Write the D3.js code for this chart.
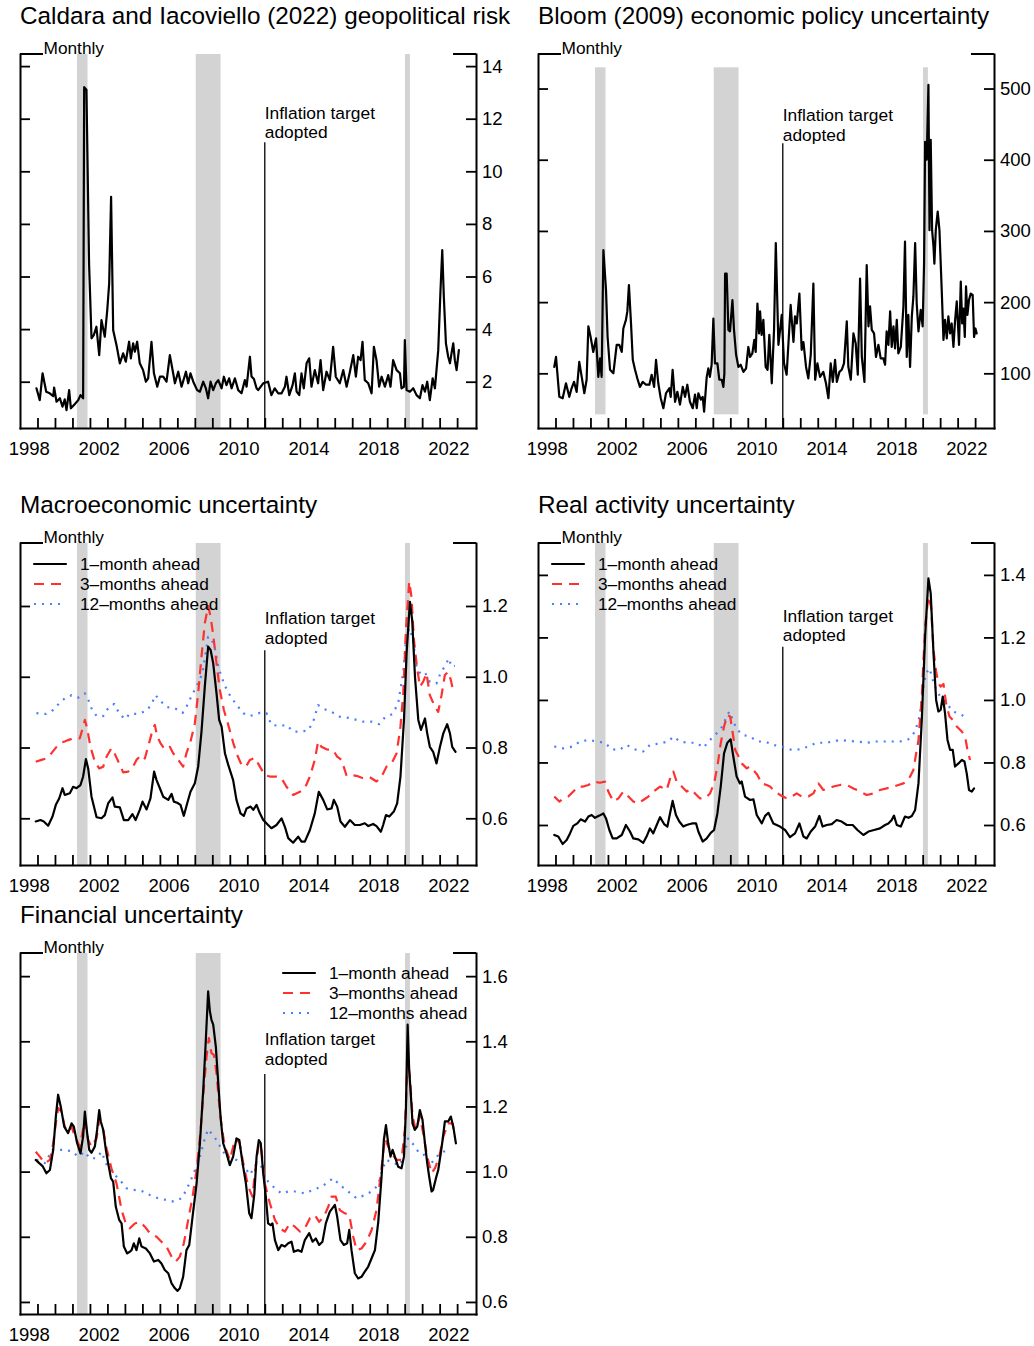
<!DOCTYPE html>
<html>
<head>
<meta charset="utf-8">
<script src="https://cdn.jsdelivr.net/npm/d3@7"></script>
<style>
  body { margin: 0; background: #fff; }
  svg text { font-family: "Liberation Sans", Arial, Helvetica, sans-serif; fill: #000; }
</style>
</head>
<body>
<svg id="chart" width="1034" height="1346"></svg>
<script>
// ---- Data: [decimal year, value] ----
const gprRisk = [[1998.94,1.75],[1999.13,1.30],[1999.29,2.32],[1999.5,1.62],[1999.7,1.56],[1999.9,1.45],[1999.95,1.78],[2000.09,1.24],[2000.28,1.37],[2000.43,1.05],[2000.56,1.33],[2000.66,0.92],[2000.81,1.68],[2000.91,0.99],[2001.14,1.15],[2001.33,1.30],[2001.46,1.49],[2001.61,1.37],[2001.67,13.2],[2001.8,13.1],[2001.95,6.5],[2002.09,3.65],[2002.22,3.77],[2002.37,4.09],[2002.53,3.01],[2002.66,4.34],[2002.85,3.71],[2002.99,4.72],[2003.1,5.74],[2003.21,9.03],[2003.33,3.96],[2003.52,3.39],[2003.71,2.70],[2003.9,3.08],[2004.05,2.76],[2004.24,3.52],[2004.34,2.89],[2004.47,3.46],[2004.57,3.14],[2004.7,3.52],[2004.85,2.70],[2005.04,2.44],[2005.2,2.0],[2005.33,2.13],[2005.52,3.52],[2005.66,2.32],[2005.85,1.81],[2006.0,2.19],[2006.19,2.19],[2006.38,2.0],[2006.57,3.01],[2006.76,2.32],[2006.86,1.94],[2007.05,2.38],[2007.24,1.81],[2007.49,2.38],[2007.62,1.94],[2007.75,2.32],[2007.91,2.0],[2008.13,1.68],[2008.29,1.62],[2008.48,2.0],[2008.63,1.75],[2008.76,1.37],[2008.9,2.0],[2009.05,1.68],[2009.2,1.94],[2009.34,2.06],[2009.53,1.75],[2009.66,2.19],[2009.81,1.87],[2009.96,2.13],[2010.1,1.75],[2010.29,2.13],[2010.48,1.68],[2010.67,1.56],[2010.86,2.06],[2010.96,1.81],[2011.15,2.95],[2011.24,2.2],[2011.38,2.1],[2011.53,1.75],[2011.62,1.68],[2011.91,1.94],[2012.19,2.0],[2012.38,1.49],[2012.57,1.75],[2012.77,1.56],[2012.96,1.56],[2013.15,1.81],[2013.24,2.19],[2013.4,1.49],[2013.59,1.87],[2013.72,2.32],[2013.82,1.62],[2013.97,1.49],[2014.1,2.32],[2014.23,1.75],[2014.39,2.70],[2014.54,2.89],[2014.67,1.81],[2014.86,2.44],[2015.05,1.94],[2015.19,2.82],[2015.34,1.68],[2015.53,2.38],[2015.72,2.06],[2015.91,3.33],[2016.06,2.19],[2016.29,1.94],[2016.49,2.44],[2016.68,1.81],[2016.87,2.38],[2017.06,3.01],[2017.21,2.19],[2017.34,2.95],[2017.48,2.82],[2017.59,3.52],[2017.72,2.06],[2017.92,1.94],[2018.11,1.56],[2018.24,3.33],[2018.39,2.82],[2018.54,1.81],[2018.68,2.19],[2018.87,1.81],[2019.06,2.25],[2019.19,1.81],[2019.34,2.82],[2019.54,2.44],[2019.73,2.32],[2019.82,1.75],[2019.96,1.81],[2020.01,3.58],[2020.11,1.68],[2020.3,1.62],[2020.49,1.75],[2020.68,1.49],[2020.87,1.37],[2021.02,1.87],[2021.16,1.62],[2021.29,2.0],[2021.44,1.30],[2021.6,2.13],[2021.73,1.75],[2021.92,3.20],[2022.05,5.49],[2022.15,7.0],[2022.24,5.23],[2022.36,3.46],[2022.49,2.95],[2022.59,2.70],[2022.68,3.08],[2022.78,3.46],[2022.87,2.82],[2022.97,2.44],[2023.1,3.20]];

const epuIndex = [[1998.93,109],[1999.03,123],[1999.22,67],[1999.41,65],[1999.6,86],[1999.79,67],[1999.92,79],[2000.06,88],[2000.21,74],[2000.36,116],[2000.5,95],[2000.65,72],[2000.78,91],[2000.88,166],[2001.01,151],[2001.16,130],[2001.32,149],[2001.45,95],[2001.55,121],[2001.64,95],[2001.74,273],[2001.89,217],[2001.98,151],[2002.12,105],[2002.31,100],[2002.5,140],[2002.65,140],[2002.79,130],[2002.88,163],[2003.03,175],[2003.11,187],[2003.2,224],[2003.32,170],[2003.42,119],[2003.55,105],[2003.68,93],[2003.83,81],[2003.99,88],[2004.18,84],[2004.37,84],[2004.5,98],[2004.64,81],[2004.75,119],[2004.88,86],[2005.02,65],[2005.17,51],[2005.32,72],[2005.51,79],[2005.59,67],[2005.7,105],[2005.84,60],[2005.97,74],[2006.12,56],[2006.28,81],[2006.41,67],[2006.54,84],[2006.69,60],[2006.85,51],[2006.98,70],[2007.08,51],[2007.17,72],[2007.31,63],[2007.42,67],[2007.5,46],[2007.65,95],[2007.74,107],[2007.83,95],[2007.93,112],[2008.03,177],[2008.12,114],[2008.26,114],[2008.37,91],[2008.51,91],[2008.6,81],[2008.66,100],[2008.7,240],[2008.79,240],[2008.89,161],[2008.98,159],[2009.12,203],[2009.21,161],[2009.33,126],[2009.46,109],[2009.59,112],[2009.75,102],[2009.9,107],[2010.03,137],[2010.13,123],[2010.26,128],[2010.37,147],[2010.45,130],[2010.55,198],[2010.64,156],[2010.7,187],[2010.79,154],[2010.89,175],[2011.02,109],[2011.13,105],[2011.23,154],[2011.37,86],[2011.5,161],[2011.6,283],[2011.75,140],[2011.94,182],[2012.07,114],[2012.22,98],[2012.45,196],[2012.61,144],[2012.7,180],[2012.8,170],[2012.95,212],[2013.08,133],[2013.18,144],[2013.33,109],[2013.46,93],[2013.6,126],[2013.75,226],[2013.85,91],[2013.98,114],[2014.13,95],[2014.32,102],[2014.47,86],[2014.61,65],[2014.74,114],[2014.86,88],[2014.99,119],[2015.09,88],[2015.24,102],[2015.37,105],[2015.5,114],[2015.66,173],[2015.75,109],[2015.89,91],[2016.04,156],[2016.17,142],[2016.29,98],[2016.42,233],[2016.52,123],[2016.67,88],[2016.8,252],[2016.9,166],[2016.99,194],[2017.09,161],[2017.22,156],[2017.33,123],[2017.47,140],[2017.6,121],[2017.75,121],[2017.85,112],[2017.94,159],[2018.04,140],[2018.14,187],[2018.23,137],[2018.33,166],[2018.42,135],[2018.52,175],[2018.61,128],[2018.75,137],[2018.9,194],[2018.99,285],[2019.09,123],[2019.18,182],[2019.28,109],[2019.38,180],[2019.47,208],[2019.57,283],[2019.66,198],[2019.76,159],[2019.89,189],[2020.0,166],[2020.08,254],[2020.14,425],[2020.23,400],[2020.33,505],[2020.39,301],[2020.46,428],[2020.54,301],[2020.62,278],[2020.67,254],[2020.75,301],[2020.86,327],[2020.96,301],[2021.09,217],[2021.19,147],[2021.28,175],[2021.38,149],[2021.47,180],[2021.57,156],[2021.66,170],[2021.76,137],[2021.85,173],[2021.95,201],[2022.08,140],[2022.18,229],[2022.26,170],[2022.33,191],[2022.41,151],[2022.48,222],[2022.56,182],[2022.65,203],[2022.75,212],[2022.86,210],[2022.94,151],[2023.02,163],[2023.09,156]];

const macro1 = [[1998.9,0.591],[1999.17,0.595],[1999.36,0.591],[1999.61,0.579],[1999.86,0.605],[2000.05,0.638],[2000.24,0.656],[2000.43,0.685],[2000.56,0.666],[2000.85,0.671],[2001.04,0.689],[2001.23,0.685],[2001.46,0.694],[2001.61,0.718],[2001.77,0.767],[2001.9,0.741],[2002.09,0.661],[2002.38,0.603],[2002.66,0.6],[2002.85,0.609],[2003.04,0.642],[2003.29,0.659],[2003.42,0.633],[2003.71,0.631],[2003.94,0.595],[2004.19,0.595],[2004.43,0.612],[2004.61,0.595],[2004.85,0.624],[2005.01,0.647],[2005.24,0.625],[2005.46,0.656],[2005.67,0.732],[2005.81,0.708],[2006.0,0.685],[2006.19,0.661],[2006.48,0.652],[2006.67,0.669],[2006.8,0.647],[2006.99,0.644],[2007.18,0.638],[2007.37,0.607],[2007.56,0.642],[2007.75,0.675],[2008.0,0.699],[2008.19,0.746],[2008.38,0.845],[2008.57,0.972],[2008.76,1.085],[2008.9,1.076],[2009.05,1.038],[2009.24,0.953],[2009.39,0.878],[2009.53,0.859],[2009.72,0.784],[2009.91,0.751],[2010.19,0.708],[2010.38,0.652],[2010.61,0.614],[2010.8,0.607],[2010.96,0.628],[2011.19,0.633],[2011.34,0.624],[2011.53,0.638],[2011.72,0.614],[2011.91,0.595],[2012.19,0.581],[2012.38,0.572],[2012.67,0.581],[2012.96,0.6],[2013.15,0.576],[2013.34,0.544],[2013.62,0.531],[2013.91,0.548],[2014.1,0.534],[2014.29,0.534],[2014.58,0.567],[2014.86,0.614],[2015.09,0.675],[2015.34,0.652],[2015.57,0.625],[2015.82,0.628],[2015.95,0.652],[2016.14,0.633],[2016.33,0.591],[2016.58,0.576],[2016.87,0.595],[2017.15,0.581],[2017.44,0.581],[2017.72,0.586],[2017.92,0.578],[2018.2,0.584],[2018.39,0.578],[2018.64,0.562],[2018.77,0.581],[2018.93,0.609],[2019.12,0.605],[2019.38,0.619],[2019.57,0.642],[2019.76,0.718],[2019.96,0.878],[2020.11,1.066],[2020.3,1.212],[2020.43,1.16],[2020.59,1.0],[2020.78,0.878],[2020.93,0.85],[2021.16,0.882],[2021.29,0.84],[2021.44,0.802],[2021.63,0.788],[2021.82,0.755],[2022.02,0.802],[2022.21,0.84],[2022.43,0.866],[2022.59,0.84],[2022.72,0.802],[2022.91,0.788]];

const macro3 = [[1998.9,0.76],[1999.23,0.765],[1999.51,0.769],[1999.8,0.784],[2000.09,0.802],[2000.37,0.814],[2000.56,0.817],[2000.75,0.821],[2001.04,0.826],[2001.42,0.826],[2001.61,0.859],[2001.71,0.878],[2001.84,0.854],[2002.03,0.802],[2002.28,0.76],[2002.53,0.741],[2002.76,0.746],[2002.95,0.774],[2003.23,0.798],[2003.42,0.782],[2003.67,0.755],[2003.9,0.73],[2004.19,0.732],[2004.47,0.746],[2004.66,0.765],[2004.95,0.779],[2005.14,0.769],[2005.43,0.821],[2005.58,0.85],[2005.71,0.864],[2005.85,0.831],[2006.04,0.812],[2006.28,0.795],[2006.57,0.802],[2006.76,0.784],[2007.05,0.765],[2007.33,0.746],[2007.52,0.784],[2007.75,0.817],[2008.0,0.868],[2008.19,0.953],[2008.38,1.057],[2008.57,1.151],[2008.76,1.2],[2008.9,1.17],[2009.05,1.118],[2009.24,1.038],[2009.43,0.963],[2009.66,0.906],[2009.91,0.864],[2010.19,0.814],[2010.42,0.779],[2010.67,0.751],[2010.92,0.746],[2011.15,0.765],[2011.43,0.771],[2011.72,0.746],[2012.0,0.722],[2012.29,0.718],[2012.67,0.718],[2012.96,0.713],[2013.24,0.689],[2013.62,0.666],[2014.01,0.675],[2014.29,0.685],[2014.58,0.718],[2014.86,0.765],[2015.05,0.817],[2015.24,0.802],[2015.53,0.795],[2015.91,0.793],[2016.14,0.774],[2016.39,0.765],[2016.68,0.72],[2016.96,0.722],[2017.25,0.72],[2017.63,0.713],[2018.01,0.716],[2018.39,0.704],[2018.68,0.718],[2018.96,0.746],[2019.25,0.755],[2019.54,0.784],[2019.76,0.859],[2019.92,0.953],[2020.07,1.132],[2020.26,1.269],[2020.39,1.226],[2020.53,1.104],[2020.68,1.038],[2020.87,0.972],[2021.06,0.986],[2021.25,1.01],[2021.44,0.948],[2021.73,0.915],[2021.92,0.901],[2022.11,0.948],[2022.3,1.005],[2022.49,1.014],[2022.64,0.991],[2022.81,0.953]];

const macro12 = [[1998.94,0.897],[1999.48,0.895],[1999.9,0.906],[2000.24,0.925],[2000.56,0.939],[2000.95,0.948],[2001.33,0.941],[2001.71,0.953],[2001.9,0.936],[2002.09,0.911],[2002.38,0.889],[2002.76,0.889],[2003.04,0.911],[2003.39,0.923],[2003.67,0.897],[2004.0,0.88],[2004.28,0.895],[2004.76,0.895],[2005.24,0.904],[2005.52,0.922],[2005.75,0.948],[2006.04,0.931],[2006.42,0.914],[2006.86,0.911],[2007.3,0.898],[2007.52,0.915],[2007.77,0.941],[2008.0,0.964],[2008.23,0.986],[2008.44,1.011],[2008.61,1.066],[2008.76,1.113],[2008.95,1.108],[2009.14,1.08],[2009.34,1.028],[2009.66,0.981],[2009.91,0.955],[2010.19,0.934],[2010.48,0.915],[2010.77,0.897],[2011.15,0.889],[2011.72,0.898],[2012.1,0.897],[2012.38,0.864],[2012.86,0.861],[2013.24,0.864],[2013.62,0.845],[2014.01,0.845],[2014.48,0.848],[2014.77,0.873],[2015.05,0.92],[2015.44,0.908],[2015.91,0.898],[2016.29,0.887],[2016.77,0.884],[2017.25,0.878],[2017.63,0.873],[2018.11,0.873],[2018.54,0.866],[2018.87,0.885],[2019.31,0.895],[2019.63,0.925],[2019.92,1.014],[2020.11,1.123],[2020.3,1.137],[2020.49,1.099],[2020.68,1.028],[2020.91,1.008],[2021.16,1.012],[2021.44,0.986],[2021.82,0.981],[2022.05,1.01],[2022.3,1.03],[2022.53,1.052],[2022.68,1.028],[2022.87,1.031]];

const real1 = [[1998.93,0.568],[1999.16,0.563],[1999.41,0.539],[1999.64,0.552],[1999.83,0.573],[2000.02,0.597],[2000.25,0.605],[2000.44,0.618],[2000.69,0.611],[2000.88,0.627],[2001.07,0.632],[2001.26,0.623],[2001.51,0.63],[2001.74,0.637],[2001.89,0.621],[2002.08,0.584],[2002.27,0.557],[2002.5,0.557],[2002.79,0.568],[2003.03,0.6],[2003.26,0.579],[2003.45,0.557],[2003.74,0.554],[2004.02,0.543],[2004.21,0.563],[2004.4,0.589],[2004.59,0.573],[2004.79,0.6],[2004.98,0.625],[2005.21,0.603],[2005.4,0.595],[2005.55,0.637],[2005.7,0.677],[2005.89,0.632],[2006.08,0.611],[2006.31,0.595],[2006.5,0.6],[2006.69,0.603],[2006.85,0.605],[2007.04,0.605],[2007.17,0.579],[2007.42,0.547],[2007.65,0.557],[2007.88,0.575],[2008.07,0.584],[2008.26,0.637],[2008.45,0.723],[2008.64,0.829],[2008.83,0.863],[2009.02,0.874],[2009.17,0.819],[2009.36,0.755],[2009.55,0.733],[2009.65,0.739],[2009.84,0.691],[2010.13,0.68],[2010.32,0.682],[2010.51,0.632],[2010.8,0.605],[2010.99,0.629],[2011.18,0.639],[2011.46,0.605],[2011.84,0.595],[2012.13,0.584],[2012.41,0.561],[2012.7,0.573],[2012.95,0.605],[2013.18,0.563],[2013.37,0.557],[2013.6,0.579],[2013.85,0.595],[2014.09,0.629],[2014.28,0.595],[2014.51,0.6],[2014.8,0.603],[2015.08,0.616],[2015.37,0.611],[2015.66,0.6],[2016.0,0.6],[2016.27,0.584],[2016.61,0.568],[2016.9,0.579],[2017.22,0.584],[2017.56,0.589],[2017.85,0.6],[2018.04,0.605],[2018.23,0.616],[2018.36,0.63],[2018.52,0.6],[2018.75,0.595],[2018.99,0.627],[2019.19,0.623],[2019.38,0.629],[2019.57,0.648],[2019.76,0.733],[2019.95,0.936],[2020.14,1.203],[2020.33,1.389],[2020.46,1.341],[2020.62,1.149],[2020.77,1.0],[2020.9,0.963],[2021.03,0.968],[2021.15,1.011],[2021.28,0.957],[2021.42,0.872],[2021.57,0.84],[2021.72,0.84],[2021.85,0.787],[2022.05,0.797],[2022.24,0.808],[2022.39,0.803],[2022.52,0.765],[2022.65,0.712],[2022.81,0.707],[2022.94,0.717]];

const real3 = [[1998.93,0.691],[1999.22,0.675],[1999.45,0.685],[1999.73,0.691],[2000.02,0.707],[2000.31,0.723],[2000.59,0.723],[2000.88,0.728],[2001.17,0.739],[2001.55,0.735],[2001.83,0.739],[2002.02,0.707],[2002.31,0.675],[2002.6,0.685],[2002.88,0.707],[2003.17,0.691],[2003.45,0.675],[2003.74,0.669],[2004.02,0.68],[2004.31,0.691],[2004.6,0.707],[2004.98,0.723],[2005.36,0.712],[2005.59,0.755],[2005.74,0.771],[2005.93,0.739],[2006.22,0.723],[2006.5,0.707],[2006.73,0.714],[2006.98,0.701],[2007.27,0.685],[2007.55,0.685],[2007.84,0.701],[2008.07,0.733],[2008.26,0.787],[2008.45,0.861],[2008.64,0.915],[2008.83,0.952],[2008.99,0.947],[2009.14,0.893],[2009.28,0.84],[2009.47,0.819],[2009.65,0.797],[2009.94,0.781],[2010.13,0.787],[2010.32,0.776],[2010.55,0.76],[2010.8,0.733],[2011.08,0.728],[2011.27,0.723],[2011.56,0.707],[2011.84,0.696],[2012.22,0.685],[2012.51,0.691],[2012.8,0.701],[2013.08,0.691],[2013.46,0.691],[2013.75,0.701],[2014.04,0.733],[2014.32,0.712],[2014.61,0.717],[2014.89,0.723],[2015.28,0.728],[2015.66,0.728],[2016.04,0.717],[2016.42,0.707],[2016.8,0.696],[2017.18,0.701],[2017.56,0.712],[2017.94,0.717],[2018.33,0.723],[2018.61,0.728],[2018.9,0.733],[2019.18,0.744],[2019.47,0.776],[2019.76,0.872],[2019.95,1.011],[2020.14,1.235],[2020.33,1.331],[2020.48,1.299],[2020.62,1.16],[2020.77,1.091],[2020.9,1.053],[2021.03,1.043],[2021.19,1.051],[2021.34,0.989],[2021.53,0.947],[2021.72,0.936],[2021.95,0.915],[2022.24,0.899],[2022.43,0.883],[2022.56,0.84],[2022.71,0.808]];

const real12 = [[1998.93,0.851],[1999.45,0.845],[1999.98,0.851],[2000.4,0.867],[2000.88,0.872],[2001.36,0.867],[2001.83,0.863],[2002.21,0.842],[2002.65,0.84],[2003.07,0.856],[2003.55,0.842],[2004.02,0.835],[2004.4,0.856],[2004.98,0.861],[2005.45,0.867],[2005.74,0.883],[2006.12,0.867],[2006.6,0.863],[2007.08,0.863],[2007.46,0.847],[2007.75,0.867],[2008.13,0.888],[2008.51,0.913],[2008.7,0.936],[2008.94,0.963],[2009.14,0.936],[2009.36,0.907],[2009.71,0.888],[2010.13,0.883],[2010.55,0.867],[2010.99,0.867],[2011.46,0.856],[2011.94,0.851],[2012.51,0.84],[2012.99,0.842],[2013.46,0.851],[2013.94,0.863],[2014.42,0.863],[2014.89,0.867],[2015.28,0.872],[2015.75,0.869],[2016.23,0.867],[2016.8,0.863],[2017.28,0.867],[2017.75,0.867],[2018.23,0.867],[2018.71,0.867],[2019.18,0.874],[2019.57,0.899],[2019.85,0.952],[2020.04,1.043],[2020.2,1.085],[2020.39,1.101],[2020.58,1.064],[2020.81,1.027],[2021.09,1.005],[2021.38,0.989],[2021.72,0.963],[2022.05,0.957],[2022.33,0.949],[2022.62,0.943]];

const fin1 = [[1998.9,1.036],[1999.1,1.026],[1999.29,1.017],[1999.51,0.995],[1999.71,1.005],[1999.9,1.067],[2000.05,1.169],[2000.18,1.236],[2000.33,1.2],[2000.53,1.138],[2000.75,1.118],[2000.95,1.148],[2001.08,1.138],[2001.27,1.087],[2001.46,1.056],[2001.61,1.108],[2001.71,1.184],[2001.84,1.118],[2001.96,1.067],[2002.09,1.058],[2002.28,1.077],[2002.41,1.128],[2002.53,1.189],[2002.62,1.154],[2002.76,1.128],[2002.91,1.067],[2003.04,1.026],[2003.2,0.98],[2003.33,0.969],[2003.48,0.892],[2003.67,0.852],[2003.81,0.841],[2003.94,0.77],[2004.13,0.749],[2004.28,0.754],[2004.38,0.759],[2004.51,0.78],[2004.66,0.759],[2004.82,0.795],[2004.95,0.77],[2005.2,0.764],[2005.43,0.749],[2005.66,0.724],[2005.91,0.729],[2006.09,0.718],[2006.28,0.698],[2006.48,0.688],[2006.67,0.657],[2006.86,0.642],[2007.01,0.634],[2007.14,0.642],[2007.33,0.677],[2007.52,0.759],[2007.68,0.775],[2007.87,0.862],[2008.1,0.964],[2008.29,1.087],[2008.48,1.251],[2008.61,1.384],[2008.76,1.553],[2008.86,1.492],[2008.95,1.466],[2009.05,1.451],[2009.2,1.384],[2009.34,1.271],[2009.47,1.169],[2009.62,1.087],[2009.81,1.056],[2010.0,1.02],[2010.19,1.046],[2010.38,1.102],[2010.54,1.097],[2010.73,1.026],[2010.92,0.964],[2011.11,0.872],[2011.24,0.857],[2011.4,0.93],[2011.53,1.046],[2011.66,1.097],[2011.77,1.087],[2011.91,0.995],[2012.06,0.923],[2012.19,0.841],[2012.33,0.836],[2012.44,0.841],[2012.58,0.79],[2012.77,0.759],[2012.96,0.775],[2013.15,0.77],[2013.34,0.78],[2013.53,0.785],[2013.66,0.754],[2013.91,0.759],[2014.1,0.754],[2014.29,0.79],[2014.54,0.811],[2014.73,0.785],[2014.92,0.795],[2015.11,0.775],[2015.3,0.785],[2015.49,0.841],[2015.72,0.877],[2016.01,0.898],[2016.14,0.862],[2016.33,0.79],[2016.52,0.775],[2016.71,0.78],[2016.83,0.821],[2016.96,0.759],[2017.15,0.688],[2017.34,0.672],[2017.53,0.677],[2017.72,0.693],[2017.91,0.708],[2018.11,0.734],[2018.3,0.759],[2018.49,0.846],[2018.68,0.985],[2018.81,1.097],[2018.93,1.143],[2019.06,1.087],[2019.19,1.046],[2019.31,1.067],[2019.44,1.046],[2019.63,1.015],[2019.82,1.01],[2019.96,1.046],[2020.07,1.189],[2020.17,1.451],[2020.26,1.312],[2020.36,1.23],[2020.45,1.148],[2020.58,1.128],[2020.72,1.138],[2020.87,1.189],[2021.02,1.159],[2021.16,1.087],[2021.29,1.026],[2021.4,0.985],[2021.54,0.939],[2021.63,0.944],[2021.79,0.98],[2021.92,1.005],[2022.05,1.051],[2022.17,1.097],[2022.3,1.154],[2022.49,1.154],[2022.64,1.169],[2022.78,1.138],[2022.93,1.087]];

const fin3 = [[1998.9,1.061],[1999.13,1.046],[1999.42,1.026],[1999.71,1.036],[1999.9,1.087],[2000.05,1.148],[2000.18,1.195],[2000.37,1.184],[2000.56,1.138],[2000.75,1.123],[2000.95,1.138],[2001.14,1.108],[2001.42,1.077],[2001.71,1.159],[2001.9,1.097],[2002.09,1.077],[2002.38,1.102],[2002.53,1.159],[2002.76,1.128],[2002.95,1.072],[2003.23,1.01],[2003.52,0.964],[2003.81,0.882],[2004.05,0.841],[2004.28,0.826],[2004.57,0.841],[2004.85,0.846],[2005.14,0.831],[2005.43,0.811],[2005.81,0.8],[2006.09,0.785],[2006.38,0.77],[2006.67,0.739],[2006.91,0.724],[2007.14,0.739],[2007.37,0.78],[2007.62,0.852],[2007.87,0.923],[2008.1,1.005],[2008.33,1.128],[2008.52,1.261],[2008.67,1.353],[2008.8,1.41],[2008.95,1.364],[2009.09,1.358],[2009.24,1.302],[2009.39,1.21],[2009.53,1.138],[2009.72,1.077],[2010.0,1.036],[2010.29,1.097],[2010.54,1.092],[2010.77,1.026],[2011.05,0.954],[2011.3,0.923],[2011.43,0.995],[2011.66,1.087],[2011.81,1.067],[2012.0,0.964],[2012.29,0.903],[2012.58,0.852],[2012.86,0.826],[2013.15,0.816],[2013.43,0.841],[2013.72,0.831],[2014.01,0.816],[2014.29,0.826],[2014.58,0.857],[2014.86,0.867],[2015.11,0.846],[2015.38,0.862],[2015.63,0.892],[2015.82,0.923],[2016.06,0.923],[2016.29,0.882],[2016.58,0.872],[2016.83,0.867],[2017.06,0.8],[2017.25,0.759],[2017.53,0.764],[2017.82,0.785],[2018.11,0.821],[2018.39,0.882],[2018.64,0.995],[2018.87,1.102],[2019.06,1.077],[2019.25,1.056],[2019.54,1.036],[2019.82,1.036],[2020.01,1.128],[2020.17,1.343],[2020.3,1.292],[2020.45,1.169],[2020.64,1.128],[2020.87,1.169],[2021.06,1.118],[2021.29,1.046],[2021.54,0.995],[2021.73,1.01],[2021.98,1.046],[2022.21,1.108],[2022.49,1.148],[2022.74,1.148],[2022.87,1.108]];

const fin12 = [[1998.94,1.036],[1999.42,1.026],[1999.86,1.067],[2000.47,1.067],[2000.95,1.063],[2001.33,1.046],[2001.71,1.061],[2001.99,1.041],[2002.38,1.041],[2002.66,1.061],[2003.04,1.01],[2003.42,0.99],[2003.75,0.972],[2004.09,0.949],[2004.47,0.944],[2004.95,0.941],[2005.43,0.928],[2005.9,0.918],[2006.38,0.913],[2006.8,0.908],[2007.24,0.918],[2007.52,0.944],[2007.9,0.99],[2008.29,1.046],[2008.57,1.102],[2008.76,1.13],[2009.01,1.113],[2009.24,1.097],[2009.53,1.069],[2009.91,1.038],[2010.38,1.036],[2010.77,1.02],[2011.15,0.99],[2011.53,1.026],[2011.81,1.015],[2012.19,0.969],[2012.58,0.949],[2012.96,0.933],[2013.34,0.939],[2013.82,0.939],[2014.29,0.933],[2014.77,0.944],[2015.25,0.954],[2015.53,0.964],[2015.91,0.98],[2016.29,0.959],[2016.77,0.939],[2017.25,0.918],[2017.72,0.928],[2018.11,0.939],[2018.49,0.959],[2018.74,1.01],[2018.96,1.036],[2019.35,1.026],[2019.73,1.02],[2020.01,1.061],[2020.2,1.102],[2020.45,1.087],[2020.78,1.061],[2021.06,1.056],[2021.44,1.02],[2021.82,1.046],[2022.21,1.061],[2022.59,1.067]];

// US recession spans (decimal years) and the inflation-target date
const recessions = [[2001.26, 2001.86], [2008.05, 2009.47], [2020.02, 2020.30]];
const targetYear = 2012.0;

// Axis ticks
const xTickYears = d3.range(1999, 2024);
const xLabelYears = [1998, 2002, 2006, 2010, 2014, 2018, 2022];
const gprTicks = [2, 4, 6, 8, 10, 12, 14];
const epuTicks = [100, 200, 300, 400, 500];
const macroTicks = [0.6, 0.8, 1.0, 1.2];
const realTicks = [0.6, 0.8, 1.0, 1.2, 1.4];
const finTicks = [0.6, 0.8, 1.0, 1.2, 1.4, 1.6];

const horizonLabels = ["1\u2013month ahead", "3\u2013months ahead", "12\u2013months ahead"];

// ---- Styles ----
const RED = "#ff3030", BLUE = "#4a7cff";
const styles = [
  { stroke: "#000", width: 2.2, dash: null, cap: "round" },
  { stroke: RED, width: 2.2, dash: "10,7", cap: "butt" },
  { stroke: BLUE, width: 2.2, dash: "2,6", cap: "butt" }
];

const svg = d3.select("#chart");
svg.append("rect").attr("width", 1034).attr("height", 1346).attr("fill", "#fff");

const PW = 456;  // plot width
const xDomain = [1998.0, 2024.08];

const panels = [
  { title: "Caldara and Iacoviello (2022) geopolitical risk", left: 20, top: 54, bottom: 428,
    yDomain: [0.24, 14.46], ticks: gprTicks, fmt: d3.format("d"),
    series: [gprRisk], markTop: 11.1, noteOff: [-23, -4], legend: null },
  { title: "Bloom (2009) economic policy uncertainty", left: 538, top: 54, bottom: 428,
    yDomain: [23.2, 548.5], ticks: epuTicks, fmt: d3.format("d"), shade: [42.4, 529.8],
    series: [epuIndex], markTop: 423, noteOff: [-22, -2.5], legend: null },
  { title: "Macroeconomic uncertainty", left: 20, top: 543, bottom: 865,
    yDomain: [0.468, 1.378], ticks: macroTicks, fmt: d3.format(".1f"),
    series: [macro1, macro3, macro12], markTop: 1.075, noteOff: [-26, -6], legend: [34, 564] },
  { title: "Real activity uncertainty", left: 538, top: 543, bottom: 865,
    yDomain: [0.472, 1.502], ticks: realTicks, fmt: d3.format(".1f"),
    series: [real1, real3, real12], markTop: 1.17, noteOff: [-25, -6], legend: [552, 564] },
  { title: "Financial uncertainty", left: 20, top: 953, bottom: 1314,
    yDomain: [0.563, 1.671], ticks: finTicks, fmt: d3.format(".1f"),
    series: [fin1, fin3, fin12], markTop: 1.30, noteOff: [-29, -9], legend: [283, 973] }
];

function drawPanel(p) {
  const g = svg.append("g");
  const right = p.left + PW;
  const x = d3.scaleLinear().domain(xDomain).range([p.left, right]);
  const y = d3.scaleLinear().domain(p.yDomain).range([p.bottom, p.top]);

  // title
  g.append("text").attr("x", p.left).attr("y", p.top - 30)
    .attr("font-size", 24.3).text(p.title);

  // recession shading
  const sTop = p.shade ? y(p.shade[1]) : p.top;
  const sBot = p.shade ? y(p.shade[0]) : p.bottom;
  g.append("g").selectAll("rect").data(recessions).join("rect")
    .attr("x", d => x(d[0])).attr("width", d => x(d[1]) - x(d[0]))
    .attr("y", sTop).attr("height", sBot - sTop)
    .attr("fill", "#d3d3d3");

  // inflation target marker
  const tx = x(targetYear), ty = y(p.markTop);
  g.append("line").attr("x1", tx).attr("x2", tx).attr("y1", ty).attr("y2", p.bottom)
    .attr("stroke", "#000").attr("stroke-width", 1.3);
  g.append("text").attr("x", tx).attr("y", ty + p.noteOff[0]).attr("font-size", 17.4).text("Inflation target");
  g.append("text").attr("x", tx).attr("y", ty + p.noteOff[1]).attr("font-size", 17.4).text("adopted");

  // series
  const line = d3.line().x(d => x(d[0])).y(d => y(d[1]));
  const order = p.series.map((s, i) => i).reverse();
  order.forEach(i => {
    const st = styles[i];
    g.append("path").attr("d", line(p.series[i]))
      .attr("fill", "none").attr("stroke", st.stroke).attr("stroke-width", st.width)
      .attr("stroke-linejoin", "round").attr("stroke-linecap", st.cap)
      .attr("stroke-dasharray", st.dash);
  });

  // axes
  const axStyle = sel => {
    sel.select(".domain").attr("stroke", "#000").attr("stroke-width", 2).attr("stroke-linecap", "square");
    sel.selectAll(".tick line").attr("stroke", "#000").attr("stroke-width", 1.8);
    sel.selectAll("text").attr("font-size", 18.5).attr("fill", "#000")
      .attr("font-family", "'Liberation Sans', Arial, sans-serif");
  };
  g.append("g").attr("transform", `translate(0,${p.bottom})`)
    .call(d3.axisBottom(x).tickValues(xTickYears).tickSizeInner(-10).tickSizeOuter(0).tickFormat(""))
    .call(axStyle);
  g.append("g").attr("transform", `translate(0,${p.bottom})`)
    .call(d3.axisBottom(x).tickValues(xLabelYears.map(v => v + 0.5)).tickSize(0).tickPadding(14)
      .tickFormat(d => String(Math.floor(d))))
    .call(axStyle)
    .call(s => s.select(".domain").remove());
  g.append("g").attr("transform", `translate(${p.left},0)`)
    .call(d3.axisLeft(y).tickValues(p.ticks).tickSizeInner(-10).tickSizeOuter(0).tickFormat(""))
    .call(axStyle);
  g.append("g").attr("transform", `translate(${right},0)`)
    .call(d3.axisRight(y).tickValues(p.ticks).tickSizeInner(-10).tickSizeOuter(0).tickPadding(6).tickFormat(p.fmt))
    .call(axStyle);

  // short top corners and the frequency note
  g.append("line").attr("x1", p.left).attr("x2", p.left + 23).attr("y1", p.top).attr("y2", p.top)
    .attr("stroke", "#000").attr("stroke-width", 2);
  g.append("line").attr("x1", right - 23).attr("x2", right).attr("y1", p.top).attr("y2", p.top)
    .attr("stroke", "#000").attr("stroke-width", 2);
  g.append("text").attr("x", p.left + 23.5).attr("y", p.top - 0.5).attr("font-size", 17.3).text("Monthly");

  // legend
  if (p.legend) {
    const [lx, ly] = p.legend;
    horizonLabels.forEach((lab, i) => {
      const st = styles[i];
      const yy = ly + i * 20;
      g.append("line").attr("x1", lx).attr("x2", lx + 32).attr("y1", yy).attr("y2", yy)
        .attr("stroke", st.stroke).attr("stroke-width", st.width)
        .attr("stroke-linecap", st.cap).attr("stroke-dasharray", st.dash);
      g.append("text").attr("x", lx + 46).attr("y", yy).attr("dy", "0.36em")
        .attr("font-size", 17.3).text(lab);
    });
  }
}

panels.forEach(drawPanel);
</script>
</body>
</html>
